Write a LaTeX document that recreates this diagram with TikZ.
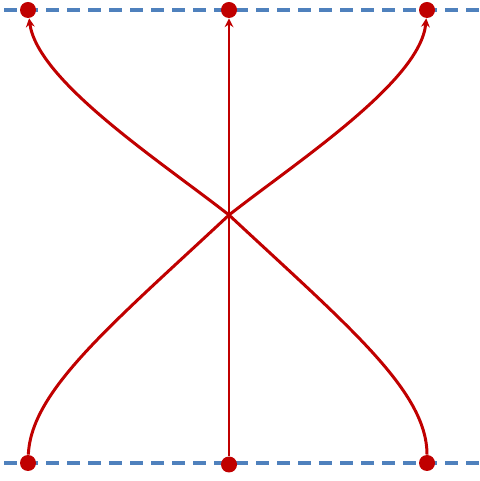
\documentclass[tikz,border=0pt]{standalone}
\usetikzlibrary{arrows.meta}
\definecolor{dotred}{RGB}{192,0,0}
\definecolor{guideblue}{RGB}{79,129,189}
\begin{document}
\begin{tikzpicture}[
dotnode/.style={circle, fill=dotred, inner sep=0pt, minimum size=3.2mm},
guideline/.style={guideblue, line width=1.8pt, dash pattern=on 2.6mm off 1.6mm},
flowline/.style={dotred, line width=1.7pt, -{Stealth[length=5pt,width=5pt]}},
]
\useasboundingbox (0,0) rectangle (9.58,9.62);

%Guides
\coordinate (gb1) at (0.08,0.36);
\coordinate (gb2) at (9.58,0.36);
\coordinate (gt1) at (0.08,9.42);
\coordinate (gt2) at (9.58,9.42);
\draw[guideline, black!15, yshift=-0.6pt] (gb1) -- (gb2);
\draw[guideline, black!15, yshift=-0.6pt] (gt1) -- (gt2);
\draw[guideline] (gb1) -- (gb2);
\draw[guideline] (gt1) -- (gt2);

%Nodes
\node[dotnode]      (b1)      at (0.56,0.36) {};
\node[dotnode]      (b2)      at (4.58,0.33) {};
\node[dotnode]      (b3)      at (8.54,0.36) {};
\node[dotnode]      (t1)      at (0.56,9.42) {};
\node[dotnode]      (t2)      at (4.58,9.42) {};
\node[dotnode]      (t3)      at (8.54,9.42) {};
\coordinate         (x)       at (4.58,5.32);

%Lines
\draw[flowline] (b2) -- (t2);
\draw[flowline] (b1) .. controls (0.62,1.8) and (2.2,3.1) .. (x)
                     .. controls (5.96,6.4) and (8.41,8.0) .. (t3);
\draw[flowline] (b3) .. controls (8.54,1.8) and (6.96,3.1) .. (x)
                     .. controls (3.2,6.4) and (0.75,8.0) .. (t1);
\end{tikzpicture}
\end{document}
